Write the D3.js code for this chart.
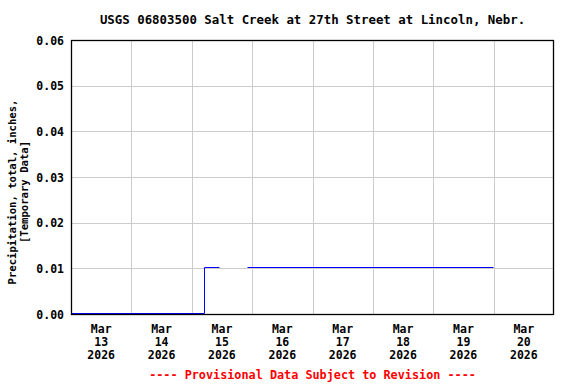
<!DOCTYPE html>
<html>
<head>
<meta charset="utf-8">
<script src="https://cdn.jsdelivr.net/npm/d3@7"></script>
<style>
  body { margin: 0; background: #fff; }
  text { font-family: "DejaVu Sans Mono", monospace; font-weight: bold; }
</style>
</head>
<body>
<div id="chart"></div>
<script>
var title = "USGS 06803500 Salt Creek at 27th Street at Lincoln, Nebr.";
var yLabel = ["Precipitation, total, inches,", "[Temporary Data]"];
var footer = "---- Provisional Data Subject to Revision ----";

// precipitation record, null marks a gap in the data
var obsTimes = ["2026-03-13T00:00", "2026-03-15T04:45", "2026-03-15T04:45", "2026-03-15T10:45",
                "2026-03-15T16:00", "2026-03-15T22:00", "2026-03-19T23:45"];
var obsValues = [0.00, 0.00, 0.01, 0.01, null, 0.01, 0.01];

var dayTicks = ["2026-03-13", "2026-03-14", "2026-03-15", "2026-03-16",
                "2026-03-17", "2026-03-18", "2026-03-19", "2026-03-20"];
var yTicks = [0, 0.01, 0.02, 0.03, 0.04, 0.05, 0.06];

var margin = {top: 40, right: 22, bottom: 69, left: 71},
    width = 576 - margin.left - margin.right,
    height = 384 - margin.top - margin.bottom;

var parseT = d3.utcParse("%Y-%m-%dT%H:%M"),
    parseD = d3.utcParse("%Y-%m-%d");

var svg = d3.select("#chart").append("svg")
    .attr("width", 576).attr("height", 384);

var g = svg.append("g").attr("transform", "translate(" + margin.left + "," + margin.top + ")");

var x = d3.scaleUtc()
    .domain([parseD("2026-03-13"), parseD("2026-03-21")])
    .range([0, width]);
var y = d3.scaleLinear().domain([0, 0.06]).range([height - 1, 0]);

// grid
var gridDays = d3.utcDay.range(parseD("2026-03-14"), parseD("2026-03-21"));
g.selectAll(".vgrid").data(gridDays).enter().append("line")
    .attr("x1", function (d) { return Math.round(x(d)) + 0.5; })
    .attr("x2", function (d) { return Math.round(x(d)) + 0.5; })
    .attr("y1", 0).attr("y2", height)
    .style("stroke", "#cccccc").style("stroke-width", 1);

g.selectAll(".hgrid").data(yTicks.slice(1, -1)).enter().append("line")
    .attr("x1", 0).attr("x2", width)
    .attr("y1", function (d) { return Math.round(y(d)) + 0.5; })
    .attr("y2", function (d) { return Math.round(y(d)) + 0.5; })
    .style("stroke", "#cccccc").style("stroke-width", 1);

// data line
var pts = obsTimes.map(function (t, i) { return {t: parseT(t), v: obsValues[i]}; });
var line = d3.line()
    .defined(function (d) { return d.v !== null; })
    .x(function (d) { return Math.round(x(d.t)) + 0.5; })
    .y(function (d) { return Math.round(y(d.v)) - 0.5; });
g.append("path").datum(pts)
    .attr("d", line)
    .style("fill", "none").style("stroke", "#0000ff").style("stroke-width", 1);

// frame
g.append("rect")
    .attr("x", 0.5).attr("y", 0.5)
    .attr("width", width - 1).attr("height", height - 1)
    .style("fill", "none").style("stroke", "#000").style("stroke-width", 1.3);

// y tick labels
g.selectAll(".ylab").data(yTicks).enter().append("text")
    .attr("x", -7)
    .attr("y", function (d) { return y(d) + 4.5; })
    .attr("text-anchor", "end")
    .style("font-size", "11.5px")
    .text(function (d) { return d3.format(".2f")(d); });

// x tick labels, centred at midday
var fmtMon = d3.utcFormat("%b"), fmtDay = d3.utcFormat("%d"), fmtYr = d3.utcFormat("%Y");
dayTicks.forEach(function (s) {
  var d = parseD(s);
  var cx = x(d3.utcHour.offset(d, 12));
  [fmtMon(d), fmtDay(d), fmtYr(d)].forEach(function (txt, i) {
    g.append("text")
      .attr("x", cx)
      .attr("y", height + 18 + i * 13)
      .attr("text-anchor", "middle")
      .style("font-size", "11.5px")
      .text(txt);
  });
});

// title
svg.append("text")
    .attr("x", margin.left + width / 2).attr("y", 24)
    .attr("text-anchor", "middle")
    .style("font-size", "12.4px")
    .text(title);

// y axis label
yLabel.forEach(function (s, i) {
  svg.append("text")
    .attr("transform", "translate(" + (16 + i * 12) + ",192) rotate(-90)")
    .attr("text-anchor", "middle")
    .style("font-size", "10.6px")
    .text(s);
});

// footer
svg.append("text")
    .attr("x", margin.left + width / 2).attr("y", 379)
    .attr("text-anchor", "middle")
    .style("font-size", "11.8px")
    .style("fill", "#ff0000")
    .text(footer);
</script>
</body>
</html>
